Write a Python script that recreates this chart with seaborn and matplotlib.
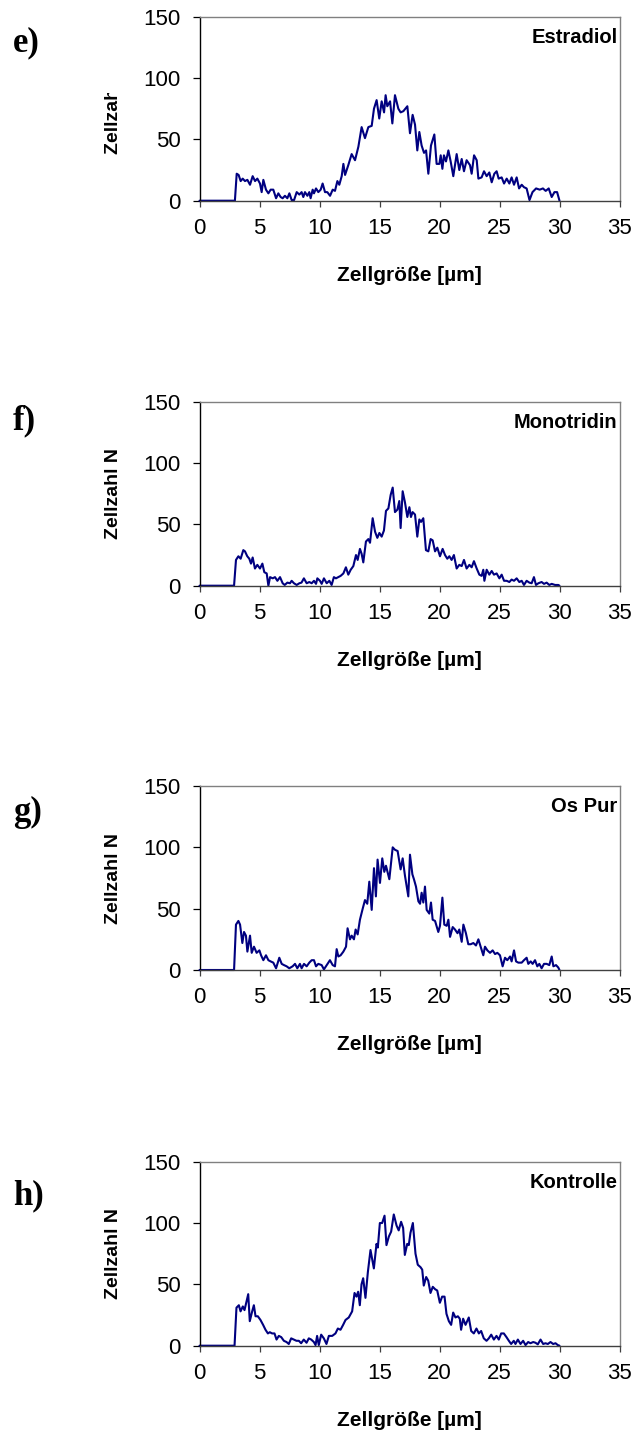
import matplotlib
matplotlib.use('Agg')
import matplotlib.pyplot as plt
import seaborn as sns
from matplotlib.patches import Rectangle

# Zellgrößenverteilungen (x in µm, N = Zellzahl)
estradiol_x = [0, 2.95, 3.10, 3.26, 3.43, 3.60, 3.79, 3.99, 4.21, 4.43, 4.63, 4.82, 5.04, 5.18, 5.32,
               5.54, 5.74, 5.93, 6.15, 6.38, 6.57, 6.76, 6.93, 7.12, 7.32, 7.49, 7.68, 7.88, 8.10,
               8.32, 8.51, 8.65, 8.79, 8.99, 9.15, 9.26, 9.43, 9.54, 9.71, 9.90, 10.10, 10.26,
               10.46, 10.65, 10.88, 11.10, 11.29, 11.49, 11.65, 11.85, 11.99, 12.13, 12.40, 12.68,
               12.96, 13.24, 13.51, 13.79, 14.07, 14.35, 14.54, 14.76, 14.98, 15.18, 15.38, 15.51,
               15.65, 15.88, 16.07, 16.29, 16.57, 16.76, 16.99, 17.32, 17.54, 17.76, 17.96, 18.15,
               18.32, 18.51, 18.71, 18.88, 19.07, 19.29, 19.57, 19.76, 19.99, 20.10, 20.24, 20.37,
               20.54, 20.74, 20.93, 21.15, 21.43, 21.65, 21.85, 22.04, 22.26, 22.54, 22.68, 22.88,
               23.10, 23.24, 23.51, 23.71, 23.93, 24.15, 24.35, 24.57, 24.76, 24.93, 25.18, 25.38,
               25.60, 25.82, 26.01, 26.21, 26.43, 26.63, 26.85, 27.04, 27.26, 27.50, 27.75, 28.05,
               28.35, 28.62, 28.85, 29.10, 29.35, 29.58, 29.80, 30.0]
estradiol_n = [0, 0, 22, 21, 16, 18, 16, 17, 13, 20, 16, 18, 14, 7, 17,
               9, 6, 9, 9, 2, 6, 3, 2, 4, 2, 6, 0.5, 0.5, 7,
               5, 7, 3, 7, 4, 7, 2, 9, 6, 10, 7, 9, 14,
               7, 7, 4, 9, 8, 16, 13, 20, 30, 21, 29, 38,
               33, 44, 60, 51, 60, 61, 75, 82, 67, 81, 72, 86,
               77, 81, 63, 86, 75, 72, 73, 77, 55, 70, 62, 41,
               56, 45, 39, 41, 22, 45, 54, 30, 30, 37, 26, 37,
               32, 41, 32, 20, 38, 25, 34, 24, 33, 29, 22, 37,
               33, 18, 19, 24, 20, 23, 15, 22, 24, 18, 19, 14,
               18, 14, 19, 13, 19, 10, 13, 11, 10, 0.5, 7, 10,
               9, 10, 8, 10, 3, 7, 7, 0]

monotridin_x = [0, 2.88, 3.04, 3.24, 3.43, 3.65, 3.79, 3.98, 4.15, 4.29, 4.43, 4.62, 4.82, 5.04, 5.24,
                5.40, 5.60, 5.74, 5.88, 6.10, 6.29, 6.49, 6.71, 6.93, 7.10, 7.32, 7.54, 7.68, 7.87,
                8.10, 8.32, 8.50, 8.70, 8.93, 9.15, 9.35, 9.54, 9.71, 9.82, 10.04, 10.18, 10.37,
                10.60, 10.82, 11.01, 11.20, 11.37, 11.57, 11.76, 11.99, 12.20, 12.40, 12.60, 12.82,
                13.04, 13.18, 13.37, 13.51, 13.65, 13.87, 14.07, 14.21, 14.43, 14.63, 14.82, 14.99,
                15.18, 15.37, 15.54, 15.74, 15.93, 16.10, 16.29, 16.49, 16.65, 16.76, 16.93, 17.12,
                17.32, 17.49, 17.62, 17.76, 17.96, 18.15, 18.32, 18.46, 18.65, 18.87, 19.07, 19.26,
                19.43, 19.63, 19.82, 20.04, 20.26, 20.46, 20.65, 20.82, 21.01, 21.20, 21.43, 21.65,
                21.85, 22.04, 22.26, 22.49, 22.68, 22.87, 23.10, 23.32, 23.51, 23.65, 23.74, 23.93,
                24.15, 24.35, 24.54, 24.76, 24.99, 25.18, 25.38, 25.60, 25.82, 26.01, 26.21, 26.43,
                26.65, 26.85, 27.04, 27.26, 27.49, 27.68, 27.87, 28.04, 28.24, 28.51, 28.71, 28.93,
                29.15, 29.35, 29.63, 29.90, 30.0]
monotridin_n = [0, 0, 21, 24, 22, 29, 28, 24, 22, 18, 23, 14, 17, 14, 18,
                11, 10, 0, 7, 6, 7, 4, 7, 2, 0.6, 2.5, 2, 4, 2,
                0.6, 2, 2.5, 6, 2, 3, 2, 4, 1.5, 6, 4, 1.5, 6,
                2, 4, 0.6, 7, 6, 7, 8, 10, 15, 9, 13, 16,
                25, 21, 30, 26, 19, 36, 38, 35, 55, 44, 39, 43,
                40, 45, 61, 63, 74, 80, 60, 62, 69, 47, 77, 68,
                56, 64, 56, 60, 58, 40, 54, 52, 55, 29, 28, 38,
                37, 28, 31, 24, 30, 25, 22, 24, 21, 25, 14, 17,
                16, 21, 14, 17, 15, 20, 14, 9, 8, 13, 4, 13,
                9, 12, 9, 10, 6, 9, 4, 4, 3, 5, 4, 6,
                3, 4, 0.6, 4, 2.5, 2, 7, 0.6, 2, 3, 1.5, 2.5,
                0.6, 1.5, 0.6, 0.6, 0]

ospur_x = [0, 2.88, 3.04, 3.24, 3.38, 3.57, 3.71, 3.87, 3.99, 4.21, 4.35, 4.54, 4.76, 4.99, 5.13,
           5.32, 5.54, 5.74, 5.93, 6.15, 6.38, 6.65, 6.85, 7.04, 7.26, 7.48, 7.76, 7.96, 8.15,
           8.37, 8.51, 8.71, 8.93, 9.15, 9.35, 9.54, 9.71, 9.90, 10.18, 10.37, 10.60, 10.87,
           11.10, 11.29, 11.43, 11.57, 11.76, 11.99, 12.21, 12.34, 12.54, 12.68, 12.87, 13.01,
           13.18, 13.37, 13.60, 13.79, 13.98, 14.15, 14.35, 14.54, 14.70, 14.84, 15.04, 15.23,
           15.40, 15.54, 15.82, 16.10, 16.29, 16.51, 16.76, 16.93, 17.12, 17.40, 17.54, 17.74,
           17.87, 18.04, 18.24, 18.38, 18.51, 18.65, 18.79, 18.93, 19.15, 19.29, 19.43, 19.63,
           19.90, 20.04, 20.24, 20.40, 20.60, 20.74, 20.88, 21.10, 21.29, 21.50, 21.65, 21.85,
           21.99, 22.20, 22.40, 22.60, 22.82, 23.04, 23.24, 23.43, 23.65, 23.79, 23.99, 24.21,
           24.43, 24.63, 24.82, 25.04, 25.26, 25.46, 25.65, 25.88, 26.01, 26.21, 26.38, 26.57,
           26.85, 27.04, 27.26, 27.40, 27.60, 27.76, 27.96, 28.15, 28.32, 28.51, 28.71, 28.93,
           29.15, 29.35, 29.49, 29.71, 29.90, 30.0]
ospur_n = [0, 0, 37, 40, 37, 22, 31, 28, 15, 28, 14, 19, 14, 16, 12,
           8, 12, 8, 7, 6, 1.4, 10, 5, 4, 3, 1.4, 3, 5, 1.4,
           5, 1.4, 5, 3, 6, 8, 8, 3, 5, 4, 0.5, 4, 8,
           4, 3, 17, 11, 12, 15, 19, 34, 25, 28, 25, 33,
           29, 41, 50, 57, 54, 72, 49, 83, 60, 90, 71, 91,
           80, 85, 74, 100, 98, 97, 82, 91, 77, 60, 94, 78,
           74, 68, 56, 54, 63, 55, 68, 49, 46, 55, 41, 40,
           31, 36, 59, 37, 36, 41, 27, 35, 33, 30, 33, 23,
           37, 30, 21, 21, 22, 20, 25, 19, 12, 19, 16, 14,
           16, 13, 14, 12, 3, 10, 8, 11, 7, 16, 7, 6,
           6, 8, 10, 5, 7, 5, 8, 3, 5, 1.4, 5, 5,
           4, 11, 3, 4, 2, 0]

kontrolle_x = [0, 2.92, 3.08, 3.28, 3.42, 3.61, 3.75, 3.92, 4.06, 4.19, 4.39, 4.53, 4.67, 4.86, 5.08,
               5.30, 5.50, 5.70, 5.86, 6.05, 6.25, 6.42, 6.61, 6.81, 7.03, 7.25, 7.44, 7.64, 7.86,
               8.08, 8.28, 8.47, 8.69, 8.92, 9.11, 9.31, 9.53, 9.67, 9.80, 9.94, 10.14, 10.36,
               10.58, 10.78, 11.06, 11.33, 11.53, 11.75, 11.97, 12.17, 12.44, 12.72, 12.92, 13.08,
               13.22, 13.36, 13.50, 13.64, 13.83, 14.03, 14.25, 14.53, 14.75, 14.86, 15.03, 15.22,
               15.42, 15.58, 15.78, 15.97, 16.19, 16.42, 16.60, 16.80, 16.97, 17.11, 17.31, 17.44,
               17.58, 17.78, 18.00, 18.19, 18.42, 18.56, 18.69, 18.89, 19.06, 19.25, 19.44, 19.64,
               19.81, 20.03, 20.22, 20.42, 20.58, 20.78, 20.97, 21.14, 21.33, 21.53, 21.69, 21.80,
               21.97, 22.17, 22.44, 22.64, 22.86, 23.08, 23.28, 23.47, 23.69, 23.92, 24.11, 24.31,
               24.53, 24.75, 24.94, 25.14, 25.36, 25.58, 25.78, 25.97, 26.19, 26.33, 26.53, 26.75,
               26.97, 27.17, 27.39, 27.58, 27.81, 28.00, 28.19, 28.42, 28.64, 28.83, 29.03, 29.25,
               29.47, 29.67, 29.86, 30.0]
kontrolle_n = [0, 0, 31, 33, 28, 32, 29, 36, 42, 20, 28, 33, 24, 24, 21,
               17, 13, 10, 11, 10, 10, 5, 8, 7, 4, 3, 1.4, 6, 5,
               4, 4, 2, 5, 2.4, 6, 5, 3, 0.5, 8, 0.5, 9, 6,
               1.4, 8, 8, 10, 14, 13, 17, 21, 23, 28, 43, 40,
               44, 33, 50, 55, 39, 60, 78, 63, 83, 80, 100, 100,
               106, 82, 89, 93, 107, 98, 94, 101, 96, 74, 83, 82,
               92, 100, 75, 66, 64, 62, 49, 56, 53, 43, 48, 46,
               45, 35, 40, 40, 26, 20, 17, 27, 23, 24, 22, 13,
               22, 17, 23, 12, 10, 14, 10, 12, 6, 4, 6, 9,
               5, 8, 5, 10, 10, 7, 4, 1.4, 4, 1.4, 5, 1.4,
               4, 0.5, 3, 2, 3, 2.4, 1.1, 5, 1.4, 2, 1.4, 3,
               1.4, 2, 0.5, 0]

letters = ['e)', 'f)', 'g)', 'h)']
names = ['Estradiol', 'Monotridin', 'Os Pur', 'Kontrolle']
xs = [estradiol_x, monotridin_x, ospur_x, kontrolle_x]
ys = [estradiol_n, monotridin_n, ospur_n, kontrolle_n]

sns.set_style('white')
plt.rcParams['font.family'] = ['Liberation Sans', 'DejaVu Sans']
plt.rcParams['text.color'] = 'black'
plt.rcParams['axes.labelcolor'] = 'black'
plt.rcParams['xtick.color'] = 'black'
plt.rcParams['ytick.color'] = 'black'

W, H = 637, 1437
fig = plt.figure(figsize=(W / 100, H / 100), dpi=100)

zero_px = [200.7, 585.7, 970.0, 1345.7]   # Lage der Nulllinie je Diagramm
letter_px = [43, 421, 812, 1196]
ax_h = 184

for i in range(4):
    ax = fig.add_axes([199.5 / W, 1 - zero_px[i] / H, 420 / W, ax_h / H])
    sns.lineplot(x=xs[i], y=ys[i], ax=ax, color='#000080', linewidth=1.5, estimator=None)
    ax.lines[0].set_clip_on(False)
    ax.set_xlim(0, 35)
    ax.set_ylim(0, 150)
    ax.set_xticks(range(0, 36, 5))
    ax.set_yticks([0, 50, 100, 150])
    ax.tick_params(axis='x', direction='out', length=4.5, width=0.9, pad=8, labelsize=16,
                   bottom=True, color='#404040', labelcolor='black')
    ax.tick_params(axis='y', direction='out', length=5, width=0.9, pad=8.5, labelsize=16,
                   left=True, color='black', labelcolor='black')
    ax.set_xlabel('')
    ax.set_ylabel('')
    ax.spines['left'].set_color('black')
    ax.spines['bottom'].set_color('#404040')
    for s in ['top', 'right']:
        ax.spines[s].set_color('#808080')
    for s in ax.spines.values():
        s.set_linewidth(1.0)

    ax.text(0.995, 1 - 21 / ax_h, names[i], transform=ax.transAxes, ha='right', va='center',
            fontsize=14.5, fontweight='bold', color='black')
    ax.text(0.5, -75 / ax_h, 'Zellgröße [µm]', transform=ax.transAxes, ha='center',
            va='center', fontsize=15, fontweight='bold', color='black')
    yl = ax.text((114 - 199.5) / 420, 0.5, 'Zellzahl N', transform=ax.transAxes, rotation=90,
                 ha='center', va='center', fontsize=14, fontweight='bold', color='black')
    if i == 0:
        # im Original ist die Beschriftung oben abgeschnitten
        clip = Rectangle((0, 0), 1, 1 - 93 / H, transform=fig.transFigure)
        yl.set_clip_path(clip)
        yl.set_clip_on(True)

    fig.text(13 / W, 1 - letter_px[i] / H, letters[i], ha='left', va='center', color='black',
             fontsize=25, fontweight='bold', family=['Liberation Serif', 'DejaVu Serif'])

fig.savefig('out.png', dpi=100)
